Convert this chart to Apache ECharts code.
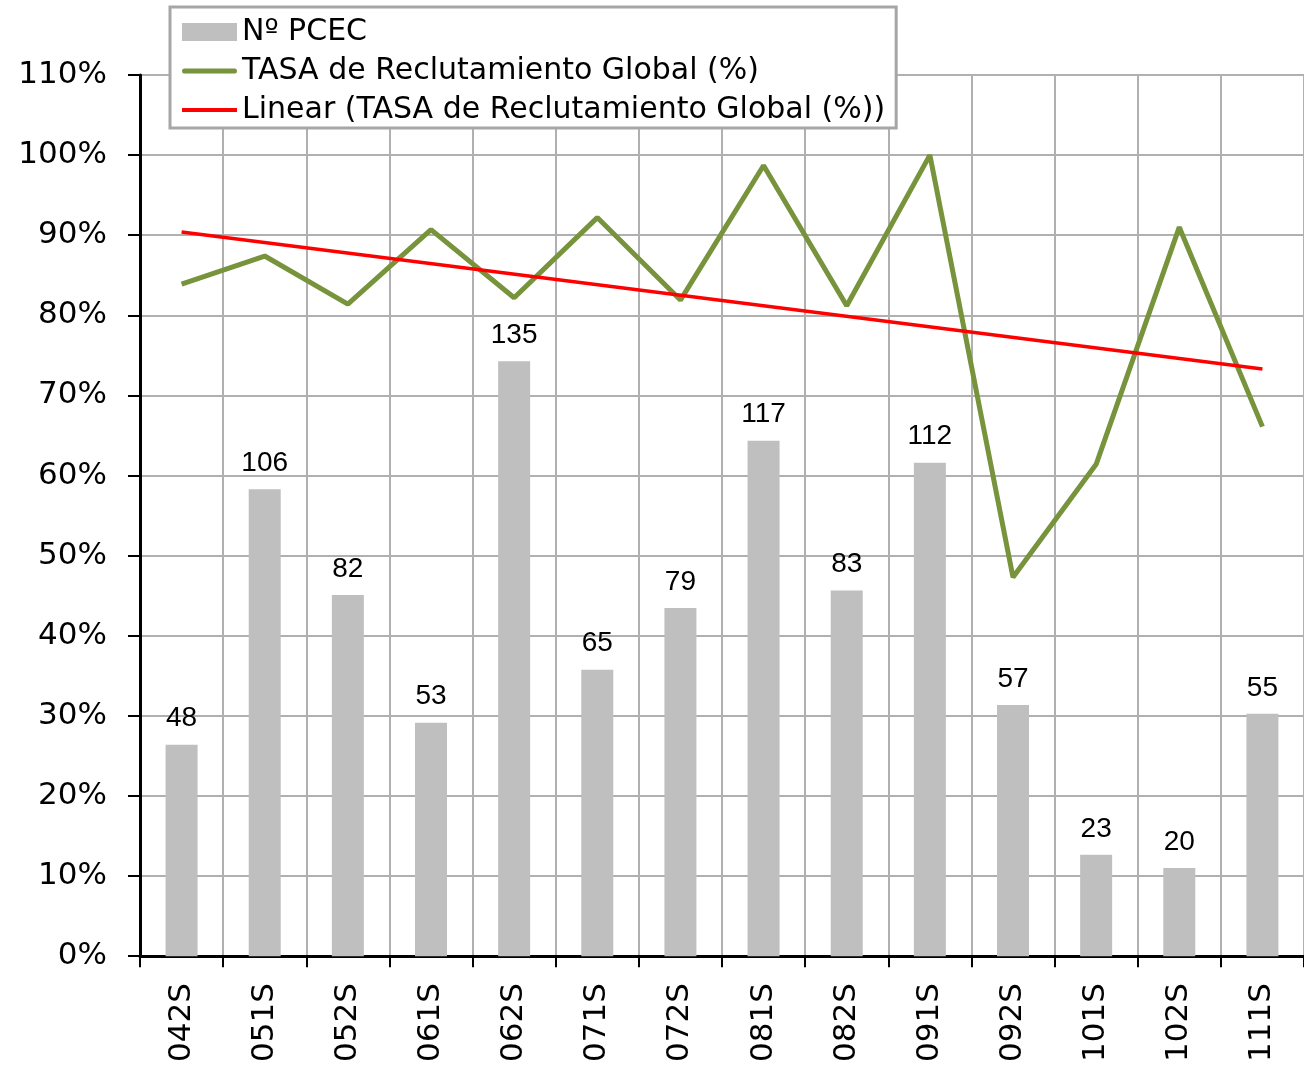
<!DOCTYPE html>
<html>
<head>
<meta charset="utf-8">
<script src="https://cdn.jsdelivr.net/npm/echarts@6/dist/echarts.min.js"></script>
<style>
  html, body { margin: 0; padding: 0; background: #fff; }
  #chart { width: 1304px; height: 1065px; }
</style>
</head>
<body>
<div id="chart"></div>
<script>
// categories (semesters)
var categories = ['042S', '051S', '052S', '061S', '062S', '071S', '072S', '081S', '082S', '091S', '092S', '101S', '102S', '111S']
// Nº PCEC (bars, hidden secondary axis)
var pcec = [48, 106, 82, 53, 135, 65, 79, 117, 83, 112, 57, 23, 20, 55]
// TASA de Reclutamiento Global (%)
var tasa = [83.9, 87.4, 81.4, 90.7, 82.2, 92.2, 81.9, 98.7, 81.2, 100, 47.3, 61.4, 91.0, 66.1]
// linear trend, value at first and last category
var trendEnds = [90.4, 73.3]

var trend = categories.map(function(c, i) {
  if (i === 0) return trendEnds[0]
  if (i === categories.length - 1) return trendEnds[1]
  return null
})

var axisFont = 'DejaVu Sans'
var chart = echarts.init(document.getElementById('chart'))

chart.setOption({
  animation: false,
  legend: {
    orient: 'vertical',
    left: 170,
    top: 7,
    padding: [10, 11, 3, 12],
    itemGap: 9,
    itemWidth: 55,
    itemHeight: 18,
    backgroundColor: '#fff',
    borderColor: '#a6a6a6',
    borderWidth: 3,
    borderRadius: 0,
    textStyle: { fontFamily: axisFont, fontSize: 30, color: '#000', lineHeight: 30 },
    data: [
      { name: 'Nº PCEC', icon: 'rect' },
      { name: 'TASA de Reclutamiento Global (%)', icon: 'path://M2,0 L53,0 Q55,0 55,2.5 Q55,5 53,5 L2,5 Q0,5 0,2.5 Q0,0 2,0 Z' },
      { name: 'Linear (TASA de Reclutamiento Global (%))', icon: 'path://M0,0 L55,0 L55,4 L0,4 Z' }
    ]
  },
  grid: {
    left: 140,
    right: 0,
    top: 75,
    bottom: 108
  },
  xAxis: {
    type: 'category',
    data: categories,
    boundaryGap: true,
    axisLine: { lineStyle: { color: '#000', width: 3 } },
    axisTick: { show: true, length: 11, lineStyle: { color: '#000', width: 2 } },
    axisLabel: { rotate: 90, margin: 27, fontFamily: axisFont, fontSize: 31, color: '#000' },
    splitLine: { show: true, lineStyle: { color: '#b0b0b0', width: 2 } }
  },
  yAxis: [
    {
      type: 'value',
      min: 0,
      max: 110,
      interval: 10,
      axisLine: { show: true, lineStyle: { color: '#000', width: 3 } },
      axisTick: { show: true, length: 12, lineStyle: { color: '#000', width: 2 } },
      axisLabel: { formatter: '{value}%', margin: 33, fontFamily: axisFont, fontSize: 31, color: '#000' },
      splitLine: { show: true, lineStyle: { color: '#b0b0b0', width: 2 } }
    },
    {
      type: 'value',
      min: 0,
      max: 200,
      show: false,
      splitLine: { show: false }
    }
  ],
  series: [
    {
      name: 'Nº PCEC',
      type: 'bar',
      yAxisIndex: 1,
      barWidth: 32,
      data: pcec,
      itemStyle: { color: '#bfbfbf' },
      label: {
        show: true,
        position: 'top',
        distance: 12,
        fontFamily: 'Liberation Sans',
        fontSize: 28,
        color: '#000'
      }
    },
    {
      name: 'TASA de Reclutamiento Global (%)',
      type: 'line',
      data: tasa,
      symbol: 'none',
      lineStyle: { color: '#77933c', width: 5 },
      itemStyle: { color: '#77933c' }
    },
    {
      name: 'Linear (TASA de Reclutamiento Global (%))',
      type: 'line',
      data: trend,
      connectNulls: true,
      symbol: 'none',
      lineStyle: { color: '#ff0000', width: 3.5 },
      itemStyle: { color: '#ff0000' }
    }
  ]
})
</script>
</body>
</html>
